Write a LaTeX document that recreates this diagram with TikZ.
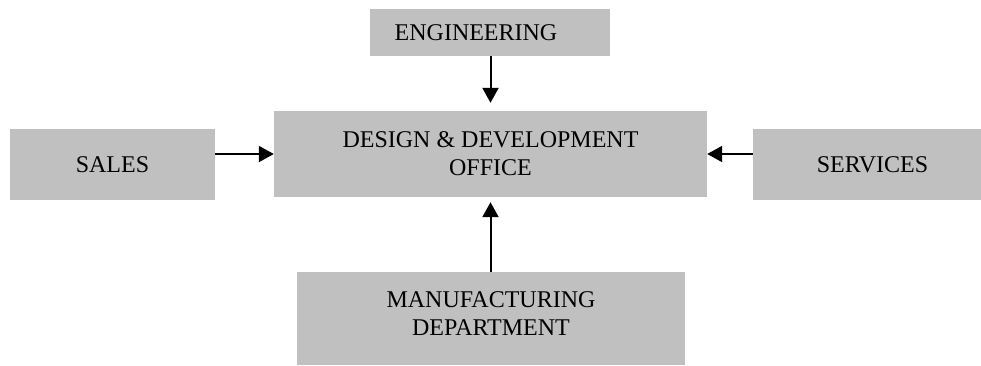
\documentclass[tikz,border=0pt]{standalone}
\usepackage{fontspec}
\setmainfont{Liberation Serif}
\usetikzlibrary{arrows.meta}
\definecolor{boxgray}{HTML}{C0C0C0}
\tikzset{
  unitbox/.style={fill=boxgray, draw=none, inner sep=0pt, align=center,
    font=\fontsize{24}{28}\selectfont},
  flowarrow/.style={line width=2pt, -{Triangle[length=15pt,width=16pt]}}
}
\begin{document}
\begin{tikzpicture}[x=1pt,y=-1pt]
\useasboundingbox (0,0) rectangle (981,365);
\node[unitbox, minimum width=240pt, minimum height=47pt] (eng) at (490,32.5) {\hspace*{-28pt}ENGINEERING};
\node[unitbox, minimum width=433pt, minimum height=86pt] (ddo) at (490.5,154) {DESIGN \& DEVELOPMENT\\OFFICE};
\node[unitbox, minimum width=205pt, minimum height=71pt] (sales) at (112.5,164.5) {SALES};
\node[unitbox, minimum width=239pt, minimum height=71pt] (serv) at (872.5,164.5) {SERVICES};
\node[unitbox, minimum width=388pt, minimum height=93pt] (mfg) at (491,318.5) {};
\node[align=center, inner sep=0pt, font=\fontsize{24}{28}\selectfont] (mfgtext) at (491,313.5) {MANUFACTURING\\DEPARTMENT};
\draw[flowarrow, shorten >=8pt] (eng.south -| ddo.north) -- (ddo.north);
\draw[flowarrow] (sales.east |- ddo.west) -- (ddo.west);
\draw[flowarrow] (serv.west |- ddo.east) -- (ddo.east);
\draw[flowarrow, shorten >=5pt] (mfg.north -| ddo.south) -- (ddo.south);
\end{tikzpicture}
\end{document}
